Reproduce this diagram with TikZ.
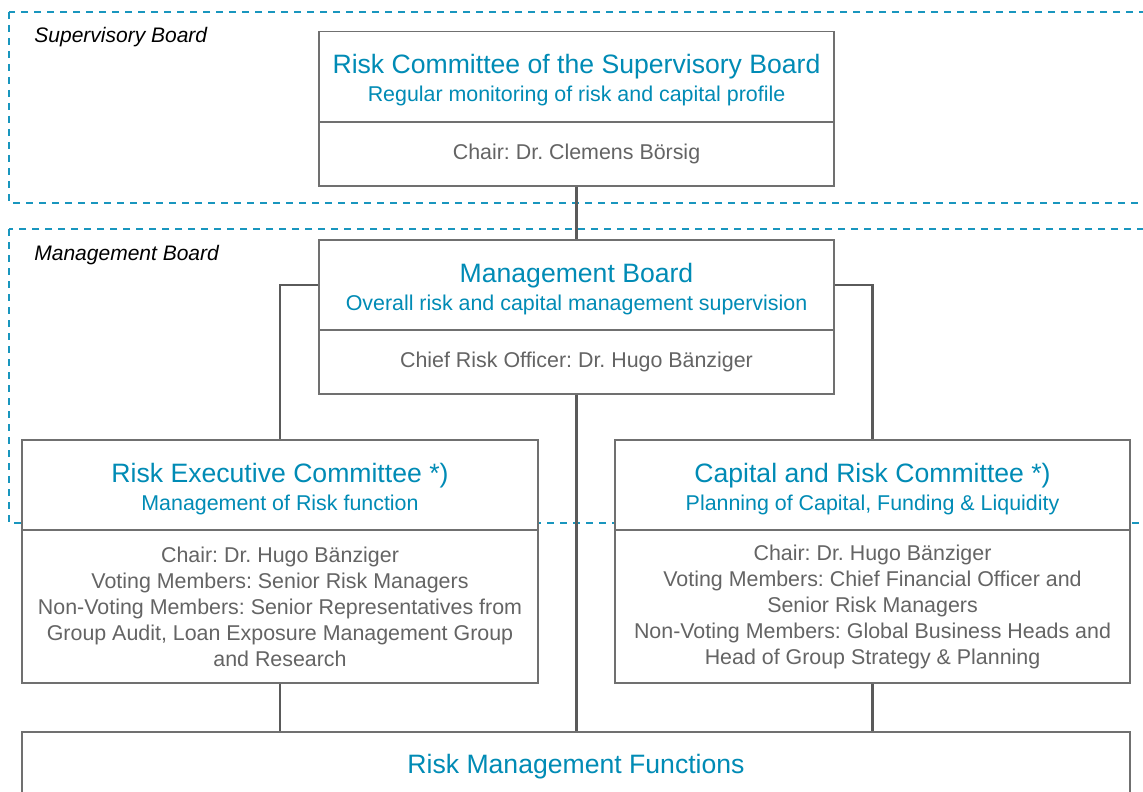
\documentclass[tikz,border=0pt]{standalone}
\usepackage{fontspec}
\setmainfont{Liberation Sans}
\usepackage{xcolor}
\definecolor{ColB}{RGB}{0,139,181}
\definecolor{ColG}{RGB}{100,100,100}
\definecolor{ColL}{RGB}{112,112,112}
\definecolor{ColD}{RGB}{25,150,190}
\usepackage{tikz}
\frenchspacing
\tikzstyle{Zone}=[draw=ColD,line width=0.75pt,dash pattern=on 3.5pt off 3pt]
\tikzstyle{ZoneST}=[font=\fontsize{10.5pt}{12pt}\selectfont\itshape,
anchor=base west,inner sep=0pt]
\tikzstyle{Head}=[draw=ColL,fill=white,line width=0.9pt,text=ColB,
align=center,inner sep=0pt,minimum height=45pt,text height=27pt,
text depth=1.5pt,font=\fontsize{10.7pt}{14pt}\selectfont]
\tikzstyle{Body}=[draw=ColL,fill=white,line width=0.9pt,text=ColG,
align=center,inner sep=0pt,font=\fontsize{10.7pt}{13pt}\selectfont]
\tikzstyle{Edge}=[draw=ColL!80!black,line width=1.4pt]
\newcommand{\Ttl}[1]{{\fontsize{13.3pt}{14pt}\selectfont #1}}

\begin{document}
\begin{tikzpicture}[x=0.5pt,y=-0.5pt]
        \useasboundingbox(0,0)rectangle(1143,791);
        \draw[Zone](9,12)rectangle(1160,203);
        \draw[Zone](9,229)rectangle(1160,523);
        \node[ZoneST](sb)at(34,43){Supervisory Board};
        \node[ZoneST](mgb)at(34,260){Management Board};
        \node[Head,minimum width=257.5pt](rc)at(576.5,76.5)
            {\Ttl{Risk Committee of the Supervisory Board}\\
            Regular monitoring of risk and capital profile};
        \node[Body,minimum width=257.5pt,minimum height=32pt](rcb)
            at(576.5,154){Chair: Dr. Clemens Börsig};
        \node[Head,minimum width=257.5pt](mb)at(576.5,285)
            {\Ttl{Management Board}\\
            Overall risk and capital management supervision};
        \node[Body,minimum width=257.5pt,minimum height=32pt](mbb)
            at(576.5,362){Chief Risk Officer: Dr. Hugo Bänziger};
        \node[Head,minimum width=258pt](rec)at(280,485)
            {\Ttl{Risk Executive Committee *)}\\
            Management of Risk function};
        \node[Body,minimum width=258pt,minimum height=76.5pt](recb)
            at(280,606.5){Chair: Dr. Hugo Bänziger\\
            Voting Members: Senior Risk Managers\\
            Non-Voting Members: Senior Representatives from\\
            Group Audit, Loan Exposure Management Group\\
            and Research};
        \node[Head,minimum width=257.5pt](crc)at(872.5,485)
            {\Ttl{Capital and Risk Committee *)}\\
            Planning of Capital, Funding \& Liquidity};
        \node[Body,minimum width=257.5pt,minimum height=76.5pt](crcb)
            at(872.5,606.5){Chair: Dr. Hugo Bänziger\\
            Voting Members: Chief Financial Officer and\\
            Senior Risk Managers\\
            Non-Voting Members: Global Business Heads and\\
            Head of Group Strategy \& Planning};
        \node[Head,anchor=north,minimum width=554pt,minimum height=0pt,
            text height=21pt,text depth=20pt](rmf)at(576,731)
            {\Ttl{Risk Management Functions}};
        \draw[Edge](rcb)--(mb);
        \draw[Edge](mb.west)-|(rec.north);
        \draw[Edge](mb.east)-|(crc.north);
        \draw[Edge](mbb)--(mbb.south|-rmf.north);
        \draw[Edge](recb)--(recb.south|-rmf.north);
        \draw[Edge](crcb)--(crcb.south|-rmf.north);
    \end{tikzpicture}
\end{document}
